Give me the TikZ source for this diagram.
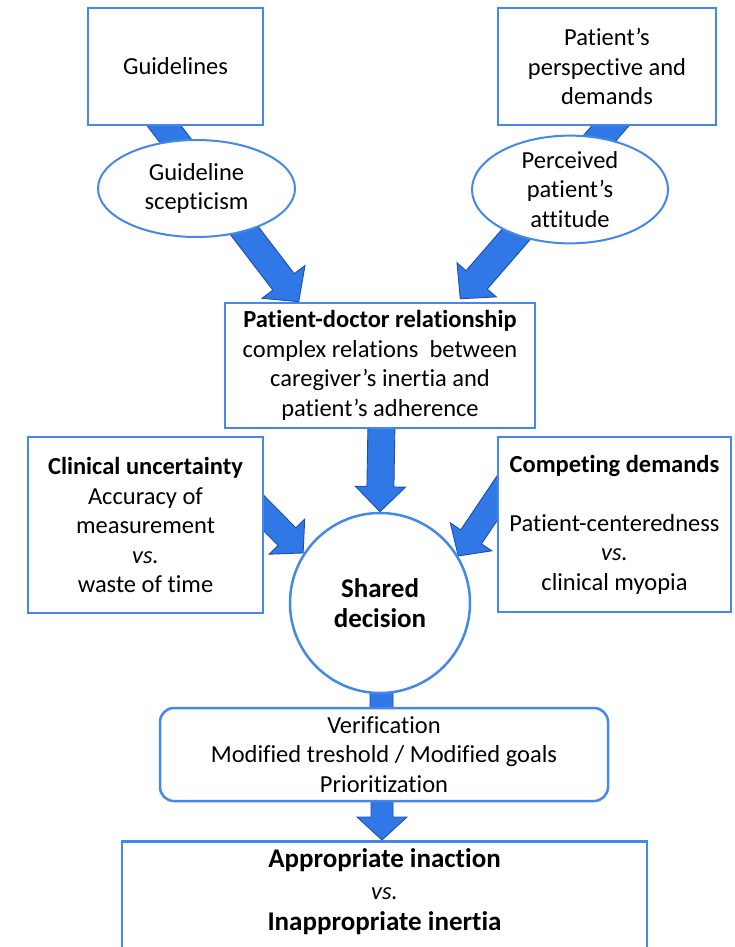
\documentclass[tikz,border=0pt]{standalone}
\usepackage{fontspec}
\setmainfont{Carlito}[Ligatures=NoCommon]
\usetikzlibrary{shapes.geometric,calc}
\pgfdeclarelayer{bottomlayer}
\pgfdeclarelayer{background}
\pgfsetlayers{bottomlayer,background,main}
\definecolor{boxblue}{RGB}{68,136,232}
\definecolor{arrfill}{RGB}{48,120,230}
\definecolor{arrline}{RGB}{28,78,180}
\newcommand\fsz{\fontsize{24.5}{29.5}\selectfont}
\newcommand\bigfsz{\fontsize{27}{31.5}\selectfont}
\newcommand\fatarrow[5]{%
  \filldraw[fill=arrfill, draw=arrline, line width=0.9pt, line join=miter]
   let \p1=(#1), \p2=(#2), \n1={atan2(\y2-\y1,\x2-\x1)}, \n2={veclen(\x2-\x1,\y2-\y1)} in
   [shift={(\p1)}, rotate=\n1]
   (0pt,-#3pt) -- (\n2-#5pt,-#3pt) -- (\n2-#5pt,-#4pt) -- (\n2,0pt) -- (\n2-#5pt,#4pt) -- (\n2-#5pt,#3pt) -- (0pt,#3pt) -- cycle;}
\tikzset{
  box/.style={draw=boxblue, line width=2.5pt, fill=white, inner sep=0pt, align=center, font=\fsz},
  ell/.style={ellipse, draw=boxblue, line width=2pt, fill=white, inner sep=0pt, align=center, font=\fsz},
}
\begin{document}
\begin{tikzpicture}[x=1pt,y=-1pt]
\useasboundingbox (0,0) rectangle (734,947);
\clip (0,0) rectangle (734,947);
\begin{pgfonlayer}{bottomlayer}
\fill[white] (0,0) rectangle (734,947);
\end{pgfonlayer}
% top boxes
\node[box, minimum width=175pt, minimum height=117pt] (guide) at (175.5,66.5) {Guidelines};
\node[box, minimum width=218pt, minimum height=117pt] (persp) at (607,66.5) {Patient’s\\perspective and\\demands};
% ellipses
\node[ell, minimum width=197pt, minimum height=97pt] (ell1) at (196.5,188.5) {Guideline\\scepticism};
\node[ell, minimum width=196pt, minimum height=95pt] (ell2) at (570,189.5) {Perceived\\patient’s\\attitude};
% patient-doctor
\node[box, minimum width=310pt, minimum height=125pt] (pd) at (380,365.5) {\textbf{Patient-doctor relationship}\\complex relations\ \ between\\caregiver’s inertia and\\patient’s adherence};
% side boxes
\node[box, minimum width=235pt, minimum height=176pt] (clin) at (145.5,525) {\textbf{Clinical uncertainty}\\Accuracy of\\measurement\\\textit{vs.}\\waste of time};
\node[box, minimum width=233pt, minimum height=175pt] (comp) at (614.5,524.5) {\textbf{Competing demands}\\\mbox{}\\Patient-centeredness\\\textit{vs.}\\clinical myopia};
% shared decision
\node[circle, draw=boxblue, line width=2.5pt, fill=white, inner sep=0pt, minimum size=180pt, align=center, font=\fontsize{27}{30}\selectfont] (sd) at (380,603) {\textbf{Shared}\\\textbf{decision}};
% verification
\node[box, rounded corners=14pt, minimum width=448pt, minimum height=93pt] (verif) at (384,754.5) {Verification\\Modified treshold / Modified goals\\Prioritization};
% result
\node[box, anchor=north, minimum width=525pt, minimum height=150pt] (res) at (384.5,840) {};
\node[align=center, font=\bigfsz, inner sep=0pt] (restext) at (384.5,892) {\textbf{Appropriate inaction}\\{\fsz\textit{vs.}}\\\textbf{Inappropriate inertia}};
% arrows
\begin{pgfonlayer}{background}
\fatarrow{$(guide.south)+(-22.5,-15)$}{$(pd.north west)+(75,0)$}{13.5}{27}{25}
\fatarrow{$(persp.south)+(16,-15)$}{$(pd.north east)+(-76,-3)$}{14}{26}{25}
\fatarrow{$(pd.south)+(1.5,-8)$}{sd.north}{13.5}{25}{25}
\fatarrow{$(clin.east)+(-58,-70)$}{sd.147}{12.5}{25}{23}
\fatarrow{$(comp.west)+(22,-58.5)$}{sd.31}{12.5}{25}{23}
\fatarrow{$(sd.south)+(1.5,-10)$}{$(verif.north)+(-2.5,32)$}{11.5}{25}{23}
\fatarrow{$(verif.south)+(-2,-10)$}{$(res.north)+(-2.5,0)$}{11}{25}{23}
\end{pgfonlayer}
\end{tikzpicture}
\end{document}
